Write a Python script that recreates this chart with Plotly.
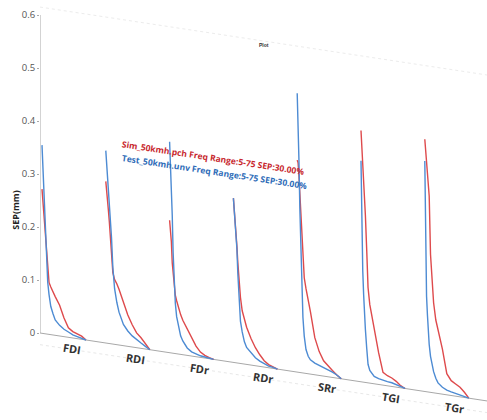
import math
import plotly.graph_objects as go

# ---------------- data ----------------
categories = ["FDl", "RDl", "FDr", "RDr", "SRr", "TGl", "TGr"]
category_labels = ["FDI", "RDI", "FDr", "RDr", "SRr", "TGI", "TGr"]

# sample positions along each curve (fraction of the curve span)
profile_frac = [0, .02, .04, .06, .08, .10, .13, .16, .20, .25, .30, .40, .50, .60, .70, .80, .90, 1.0]

sim_values = {  # red, Sim_50kmh.pch
    "FDl": [0.272, 0.250, 0.228, 0.205, 0.180, 0.155, 0.120, 0.098, 0.090, 0.081, 0.073, 0.058, 0.035, 0.018, 0.012, 0.009, 0.006, 0.0],
    "RDl": [0.305, 0.290, 0.270, 0.250, 0.230, 0.200, 0.160, 0.135, 0.122, 0.115, 0.105, 0.080, 0.059, 0.042, 0.028, 0.020, 0.010, 0.0],
    "FDr": [0.250, 0.235, 0.210, 0.170, 0.150, 0.130, 0.110, 0.100, 0.088, 0.075, 0.065, 0.050, 0.033, 0.020, 0.010, 0.005, 0.002, 0.0],
    "RDr": [0.310, 0.290, 0.265, 0.240, 0.220, 0.190, 0.150, 0.125, 0.100, 0.082, 0.070, 0.050, 0.034, 0.022, 0.012, 0.006, 0.003, 0.0],
    "SRr": [0.400, 0.395, 0.370, 0.340, 0.300, 0.265, 0.215, 0.180, 0.160, 0.140, 0.118, 0.070, 0.045, 0.029, 0.020, 0.013, 0.006, 0.0],
    "TGl": [0.474, 0.445, 0.410, 0.375, 0.345, 0.315, 0.250, 0.180, 0.148, 0.124, 0.100, 0.060, 0.024, 0.019, 0.016, 0.011, 0.004, 0.0],
    "TGr": [0.476, 0.455, 0.430, 0.410, 0.390, 0.370, 0.260, 0.210, 0.170, 0.138, 0.120, 0.085, 0.040, 0.028, 0.023, 0.018, 0.010, 0.0],
}
test_values = {  # blue, Test_50kmh.unv
    "FDl": [0.355, 0.315, 0.275, 0.235, 0.195, 0.155, 0.098, 0.075, 0.053, 0.040, 0.029, 0.020, 0.014, 0.010, 0.006, 0.004, 0.002, 0.0],
    "RDl": [0.363, 0.340, 0.310, 0.290, 0.265, 0.240, 0.200, 0.145, 0.105, 0.080, 0.062, 0.040, 0.029, 0.021, 0.015, 0.010, 0.005, 0.0],
    "FDr": [0.398, 0.360, 0.325, 0.260, 0.190, 0.140, 0.095, 0.070, 0.052, 0.035, 0.026, 0.014, 0.008, 0.005, 0.003, 0.002, 0.001, 0.0],
    "RDr": [0.310, 0.290, 0.265, 0.240, 0.215, 0.170, 0.110, 0.080, 0.060, 0.042, 0.032, 0.023, 0.015, 0.010, 0.006, 0.003, 0.002, 0.0],
    "SRr": [0.526, 0.470, 0.400, 0.310, 0.240, 0.180, 0.105, 0.070, 0.045, 0.033, 0.027, 0.022, 0.019, 0.017, 0.014, 0.010, 0.006, 0.0],
    "TGl": [0.417, 0.260, 0.210, 0.165, 0.125, 0.100, 0.065, 0.035, 0.024, 0.018, 0.014, 0.011, 0.009, 0.008, 0.007, 0.005, 0.003, 0.0],
    "TGr": [0.435, 0.230, 0.180, 0.145, 0.115, 0.090, 0.068, 0.052, 0.040, 0.028, 0.020, 0.013, 0.009, 0.007, 0.005, 0.004, 0.002, 0.0],
}

sim_name = "Sim_50kmh.pch Freq Range:5-75 SEP:30.00%"
test_name = "Test_50kmh.unv Freq Range:5-75 SEP:30.00%"
y_title = "SEP(mm)"
y_ticks = [0, 0.1, 0.2, 0.3, 0.4, 0.5, 0.6]
y_tick_text = ["0", "0.1", "0.2", "0.3", "0.4", "0.5", "0.6"]

# ---------------- projection (pseudo-3D waterfall shear) ----------------
W, H = 487, 420
L_M, R_M, T_M, B_M = 40, 0, 5, 5
PX_PER_CAT = 63.8          # pixels between categories
PX_PER_UNIT = 530.0        # pixels per 1 mm on value axis
SLOPE = 0.152              # baseline drop (px per px)
SPAN = 0.69                # curve span in category units
X0 = -2.0 / PX_PER_CAT     # axis position in category units
K = SLOPE * PX_PER_CAT / PX_PER_UNIT  # value drop per category unit

x_range = [X0, X0 + (W - L_M - R_M) / PX_PER_CAT]
y_top = (333 - T_M) / PX_PER_UNIT
y_bot = (333 - (H - B_M)) / PX_PER_UNIT


def shear(x, v):
    return v - K * (x - X0)


RED = "#de4a4c"
BLUE = "#4d8bd3"

fig = go.Figure()

# faint back/top plane line and shadow line
for lvl, col, dash in [(0.615, "#ececec", "dot"), (-0.022, "#e8e8e8", "dot")]:
    xs = [x_range[0], x_range[1]]
    fig.add_trace(go.Scatter(x=xs, y=[shear(x, lvl) for x in xs], mode="lines",
                             line=dict(color=col, width=1, dash=dash),
                             hoverinfo="skip", showlegend=False))

# baseline (value 0 plane edge)
xs = [X0, x_range[1]]
fig.add_trace(go.Scatter(x=xs, y=[shear(x, 0) for x in xs], mode="lines",
                         line=dict(color="#a8a8a8", width=1),
                         hoverinfo="skip", showlegend=False))

for i, cat in enumerate(categories):
    xs = [i + f * SPAN for f in profile_frac]
    fig.add_trace(go.Scatter(x=xs, y=[shear(x, v) for x, v in zip(xs, sim_values[cat])],
                             mode="lines", line=dict(color=RED, width=1.4),
                             name=sim_name, showlegend=False))
for i, cat in enumerate(categories):
    xs = [i + f * SPAN for f in profile_frac]
    fig.add_trace(go.Scatter(x=xs, y=[shear(x, v) for x, v in zip(xs, test_values[cat])],
                             mode="lines", line=dict(color=BLUE, width=1.4),
                             name=test_name, showlegend=False))

angle = math.degrees(math.atan(SLOPE))
annotations = []
for i, lab in enumerate(category_labels):
    xc = i + 0.47
    annotations.append(dict(x=xc, y=shear(xc, 0), text="<b>%s</b>" % lab, showarrow=False,
                            yshift=-11, textangle=angle,
                            font=dict(family="Open Sans, Arial", size=11, color="#333333")))

# legend-like texts
for txt, col, xc, vc in [(sim_name, "#c8282e", 2.68, 0.38), (test_name, "#2e6cb8", 2.70, 0.355)]:
    annotations.append(dict(x=xc, y=shear(xc, vc), text="<b>%s</b>" % txt, showarrow=False,
                            textangle=angle,
                            font=dict(family="Open Sans, Arial", size=8.5, color=col)))

# "Plot" title on the top plane
annotations.append(dict(x=3.48, y=shear(3.48, 0.607), text="<b>Plot</b>", showarrow=False,
                        font=dict(family="Arial", size=5, color="#333333")))

shapes = [dict(type="line", xref="x", yref="y", x0=X0, x1=X0, y0=0, y1=0.6,
               line=dict(color="#a8a8a8", width=1))]

fig.update_layout(
    width=W, height=H,
    margin=dict(l=L_M, r=R_M, t=T_M, b=B_M, autoexpand=False),
    paper_bgcolor="white", plot_bgcolor="white",
    showlegend=False,
    xaxis=dict(range=x_range, visible=False, fixedrange=True),
    yaxis=dict(range=[y_bot, y_top], tickvals=y_ticks, ticktext=y_tick_text,
               showgrid=False, zeroline=False, showline=False, automargin=False,
               ticks="outside", ticklen=2, tickcolor="#a8a8a8",
               tickfont=dict(family="Open Sans, Arial", size=9.5, color="#555555"),
               title=dict(text="<b>%s</b>" % y_title, standoff=0,
                          font=dict(family="Open Sans, Arial", size=9, color="#222222"))),
    annotations=annotations,
    shapes=shapes,
)

fig.write_html("out.html", config={"displayModeBar": False},
               post_script="document.body.style.margin='0';")
